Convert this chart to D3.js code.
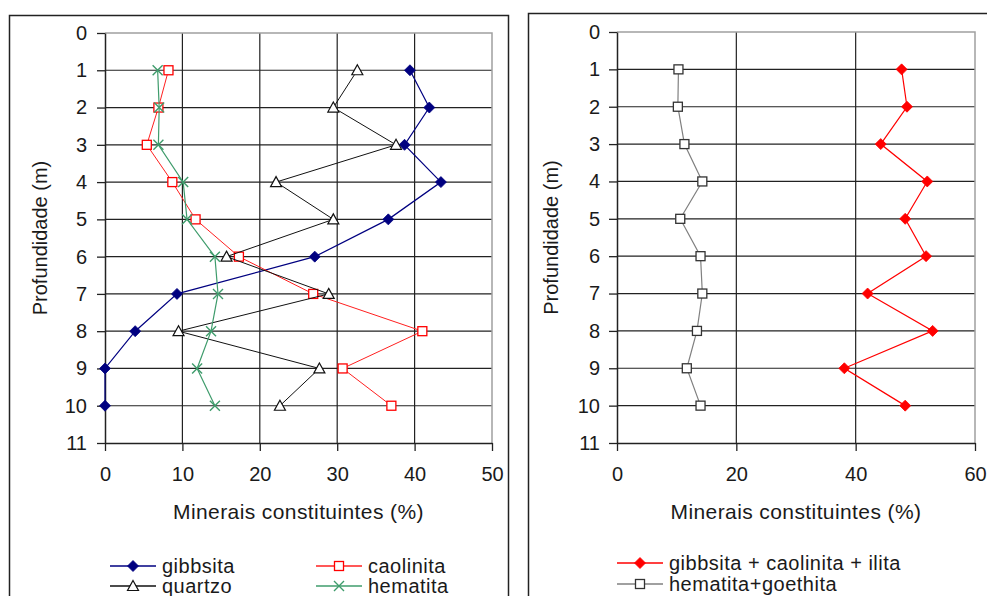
<!DOCTYPE html>
<html>
<head>
<meta charset="utf-8">
<script src="https://cdn.jsdelivr.net/npm/d3@7"></script>
<style>
  body { margin: 0; background: #fff; }
  svg { display: block; font-family: "Liberation Sans", Arial, sans-serif; }
  .tick text { font-size: 20px; fill: #1a1a1a; }
  .lbl { font-size: 20px; fill: #1a1a1a; }
</style>
</head>
<body>
<svg id="chart" width="987" height="596"></svg>
<script>
/* global d3 */

// profundidade (m)
var depths = [1, 2, 3, 4, 5, 6, 7, 8, 9, 10];

// painel esquerdo (%)
var gibbsita  = [39.4, 41.9, 38.7, 43.4, 36.6, 27.1, 9.3, 3.9, 0, 0];
var caolinita = [8.2, 6.9, 5.4, 8.7, 11.7, 17.3, 26.9, 41.0, 30.7, 37.0];
var quartzo   = [32.6, 29.5, 37.6, 22.1, 29.5, 15.7, 28.9, 9.5, 27.7, 22.6];
var hematita  = [6.8, 7.0, 6.9, 10.1, 10.6, 14.2, 14.6, 13.7, 11.9, 14.2];

// painel direito (%)
var gibCaoIli  = [47.7, 48.6, 44.2, 52.0, 48.3, 51.8, 42.0, 52.9, 38.1, 48.3];
var hemGoe     = [10.3, 10.2, 11.3, 14.3, 10.6, 14.0, 14.3, 13.4, 11.7, 14.0];

var yTicks = d3.range(0, 12);
var xTicksLeft = [0, 10, 20, 30, 40, 50];
var xTicksRight = [0, 20, 40, 60];

var svg = d3.select("#chart");

// outer frames
svg.append("rect").attr("x", 9.5).attr("y", 15.5).attr("width", 499).attr("height", 620)
  .attr("fill", "none").attr("stroke", "#222").attr("stroke-width", 1.5);
svg.append("rect").attr("x", 528.5).attr("y", 13.5).attr("width", 499).attr("height", 620)
  .attr("fill", "none").attr("stroke", "#222").attr("stroke-width", 1.5);

function marker(g, type, color, cx, cy) {
  if (type === "diamond") {
    g.append("path").attr("d", "M0,-5.5L5.5,0L0,5.5L-5.5,0Z")
      .attr("transform", "translate(" + cx + "," + cy + ")")
      .attr("fill", color).attr("stroke", color).attr("stroke-width", 0.8);
  } else if (type === "square") {
    g.append("rect").attr("x", cx - 4.5).attr("y", cy - 4.5).attr("width", 9).attr("height", 9)
      .attr("fill", "#fff").attr("stroke", color).attr("stroke-width", 1.3);
  } else if (type === "triangle") {
    g.append("path").attr("d", "M0,-5.5L5.5,4.5L-5.5,4.5Z")
      .attr("transform", "translate(" + cx + "," + cy + ")")
      .attr("fill", "#fff").attr("stroke", color).attr("stroke-width", 1.2);
  } else if (type === "x") {
    g.append("path").attr("d", "M-5,-5L5,5M-5,5L5,-5")
      .attr("transform", "translate(" + cx + "," + cy + ")")
      .attr("stroke", color).attr("stroke-width", 1.4);
  }
}

function panel(opt) {
  var x = d3.scaleLinear().domain(opt.xDomain).range(opt.xRange);
  var y = d3.scaleLinear().domain([0, 11]).range(opt.yRange);
  var g = svg.append("g");
  var x0 = opt.xRange[0], x1 = opt.xRange[1], y0 = opt.yRange[0], y1 = opt.yRange[1];

  // grid
  g.selectAll(".hgrid").data(yTicks.filter(function (d) { return d > 0 && d < 11; }))
    .enter().append("line")
    .attr("x1", x0).attr("x2", x1)
    .attr("y1", function (d) { return y(d); }).attr("y2", function (d) { return y(d); })
    .attr("stroke", "#222").attr("stroke-width", 1.2);
  g.selectAll(".vgrid").data(opt.xTicks.slice(1, -1))
    .enter().append("line")
    .attr("y1", y0).attr("y2", y1)
    .attr("x1", function (d) { return x(d); }).attr("x2", function (d) { return x(d); })
    .attr("stroke", "#222").attr("stroke-width", 1.2);
  // plot border (gray top / right)
  g.append("path").attr("d", "M" + x0 + "," + y0 + "H" + x1 + "V" + y1)
    .attr("fill", "none").attr("stroke", "#a0a0a0").attr("stroke-width", 1.5);

  // axes
  var ya = g.append("g").attr("transform", "translate(" + x0 + ",0)")
    .call(d3.axisLeft(y).tickValues(yTicks).tickSize(8).tickSizeOuter(0).tickPadding(opt.yPad));
  var xa = g.append("g").attr("transform", "translate(0," + y1 + ")")
    .call(d3.axisBottom(x).tickValues(opt.xTicks).tickSize(8).tickSizeOuter(0).tickPadding(16));
  [ya, xa].forEach(function (a) {
    a.select(".domain").attr("stroke", "#222").attr("stroke-width", 1.5);
    a.selectAll(".tick line").attr("stroke", "#222").attr("stroke-width", 1.3);
  });

  // titles
  g.append("text").attr("class", "lbl")
    .attr("transform", "translate(" + opt.yTitleX + "," + ((y0 + y1) / 2) + ") rotate(-90)")
    .attr("text-anchor", "middle").attr("dy", "0.35em").text("Profundidade (m)");
  g.append("text").attr("class", "lbl")
    .attr("x", (x0 + x1) / 2).attr("y", 519).attr("text-anchor", "middle")
    .style("font-size", "21px").style("letter-spacing", "0.4px")
    .text("Minerais constituintes (%)");

  // series
  opt.series.forEach(function (s) {
    var pts = depths.map(function (d, i) { return [s.values[i], d]; });
    g.append("path").datum(pts)
      .attr("fill", "none").attr("stroke", s.line).attr("stroke-width", s.width || 1.2)
      .attr("d", d3.line().x(function (p) { return x(p[0]); }).y(function (p) { return y(p[1]); }));
    var mg = g.append("g");
    pts.forEach(function (p) { marker(mg, s.marker, s.color, x(p[0]), y(p[1])); });

    // legend entry
    var lg = svg.append("g");
    lg.append("line").attr("x1", s.lx).attr("x2", s.lx + 46).attr("y1", s.ly).attr("y2", s.ly)
      .attr("stroke", s.line).attr("stroke-width", 1.3);
    marker(lg, s.marker, s.color, s.lx + 23, s.ly);
    lg.append("text").attr("class", "lbl").attr("x", s.lx + 52).attr("y", s.ly).attr("dy", "0.33em")
      .style("letter-spacing", "0.5px").text(s.name);
  });
}

panel({
  xDomain: [0, 50], xRange: [105, 492], yRange: [33, 443], xTicks: xTicksLeft,
  yPad: 10, yTitleX: 40,
  series: [
    { name: "gibbsita", values: gibbsita, line: "#000080", color: "#000080", marker: "diamond", lx: 110, ly: 566 },
    { name: "caolinita", values: caolinita, line: "#ff2020", color: "#ff0000", marker: "square", lx: 316, ly: 566, width: 1 },
    { name: "quartzo", values: quartzo, line: "#111", color: "#111", marker: "triangle", lx: 110, ly: 586, width: 1 },
    { name: "hematita", values: hematita, line: "#3f9c6c", color: "#3f9c6c", marker: "x", lx: 316, ly: 586 }
  ]
});

panel({
  xDomain: [0, 60], xRange: [617, 975], yRange: [32, 443], xTicks: xTicksRight,
  yPad: 9, yTitleX: 551,
  series: [
    { name: "gibbsita + caolinita + ilita", values: gibCaoIli, line: "#ff0000", color: "#ff0000", marker: "diamond", lx: 617, ly: 563 },
    { name: "hematita+goethita", values: hemGoe, line: "#808080", color: "#333", marker: "square", lx: 617, ly: 584 }
  ]
});
</script>
</body>
</html>
